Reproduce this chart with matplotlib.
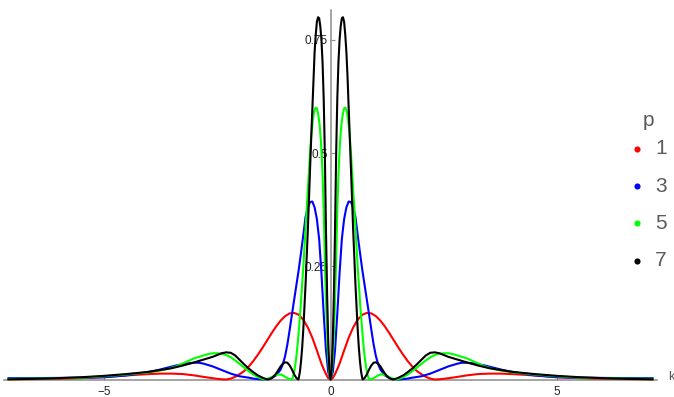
import numpy as np
import matplotlib.pyplot as plt
from matplotlib.lines import Line2D

# values, k >= 0 only (curves are symmetric in k)
k_p1 = [0, 0.05, 0.1, 0.15, 0.2, 0.3, 0.4, 0.5, 0.6, 0.7, 0.8, 0.9, 1.0, 1.1, 1.2, 1.3, 1.4,
        1.5, 1.6, 1.7, 1.8, 1.9, 2.0, 2.1, 2.2, 2.3, 2.4, 2.5, 2.75, 3.0, 3.25, 3.5, 3.75,
        4.0, 4.5, 5.0, 5.5, 6.0, 6.5, 7.1]
y_p1 = [0, 0.003, 0.012, 0.023, 0.035, 0.064, 0.092, 0.115, 0.132, 0.143, 0.147, 0.146, 0.14,
        0.13, 0.117, 0.102, 0.086, 0.07, 0.055, 0.041, 0.029, 0.019, 0.012, 0.006, 0.002, 0.0,
        0.0005, 0.0015, 0.005, 0.009, 0.012, 0.013, 0.013, 0.012, 0.009, 0.005, 0.003, 0.0015,
        0.001, 0.0005]

k_p3 = [0, 0.05, 0.1, 0.15, 0.2, 0.25, 0.3, 0.35, 0.4, 0.45, 0.5, 0.55, 0.6, 0.65, 0.7, 0.75,
        0.8, 0.85, 0.9, 0.95, 1.0, 1.05, 1.1, 1.2, 1.3, 1.4, 1.5, 1.6, 1.7, 1.8, 2.0, 2.2, 2.4,
        2.6, 2.8, 2.9, 3.0, 3.2, 3.4, 3.6, 3.8, 4.0, 4.25, 4.5, 4.75, 5.0, 5.5, 6.0, 6.5, 7.1]
y_p3 = [0, 0.016, 0.065, 0.145, 0.235, 0.31, 0.354, 0.38, 0.393, 0.392, 0.38, 0.359, 0.319,
        0.28, 0.243, 0.21, 0.177, 0.144, 0.11, 0.078, 0.052, 0.034, 0.022, 0.009, 0.003, 0.0005,
        0.0, 0.0008, 0.002, 0.004, 0.007, 0.013, 0.021, 0.029, 0.035, 0.037, 0.037, 0.035,
        0.031, 0.026, 0.021, 0.017, 0.013, 0.009, 0.007, 0.005, 0.004, 0.0035, 0.0032, 0.003]

k_p5 = [0, 0.03, 0.06, 0.09, 0.12, 0.15, 0.18, 0.21, 0.24, 0.27, 0.3, 0.33, 0.36, 0.39, 0.42,
        0.45, 0.48, 0.51, 0.54, 0.57, 0.6, 0.63, 0.66, 0.69, 0.72, 0.75, 0.78, 0.81, 0.84, 0.86,
        0.9, 0.95, 1.0, 1.05, 1.1, 1.15, 1.2, 1.25, 1.3, 1.35, 1.4, 1.45, 1.5, 1.6, 1.7, 1.8,
        1.9, 2.0, 2.1, 2.2, 2.3, 2.4, 2.5, 2.6, 2.7, 2.8, 3.0, 3.2, 3.4, 3.6, 3.8, 4.0, 4.5,
        5.0, 5.5, 6.0, 6.5, 7.1]
y_p5 = [0, 0.016, 0.064, 0.143, 0.248, 0.375, 0.465, 0.525, 0.563, 0.585, 0.599, 0.6, 0.593,
        0.572, 0.543, 0.503, 0.45, 0.401, 0.353, 0.3, 0.248, 0.203, 0.158, 0.119, 0.083, 0.053,
        0.03, 0.013, 0.002, 0.0, 0.001, 0.003, 0.006, 0.009, 0.011, 0.011, 0.01, 0.008, 0.005,
        0.003, 0.001, 0.0, 0.001, 0.005, 0.011, 0.018, 0.026, 0.034, 0.042, 0.049, 0.054,
        0.057, 0.058, 0.058, 0.056, 0.053, 0.047, 0.038, 0.029, 0.023, 0.019, 0.016, 0.011,
        0.007, 0.004, 0.003, 0.002, 0.0015]

k_p7 = [0, 0.025, 0.05, 0.075, 0.1, 0.125, 0.15, 0.175, 0.2, 0.225, 0.25, 0.275, 0.3, 0.325,
        0.35, 0.375, 0.4, 0.425, 0.45, 0.475, 0.5, 0.525, 0.55, 0.575, 0.6, 0.625, 0.65, 0.675,
        0.7, 0.71, 0.75, 0.8, 0.85, 0.9, 0.95, 1.0, 1.05, 1.1, 1.15, 1.2, 1.25, 1.3, 1.37,
        1.45, 1.5, 1.6, 1.7, 1.8, 1.9, 2.0, 2.1, 2.2, 2.3, 2.4, 2.5, 2.6, 2.8, 3.0, 3.25, 3.5,
        3.75, 4.0, 4.5, 5.0, 5.5, 6.0, 6.5, 7.1]
y_p7 = [0, 0.021, 0.085, 0.19, 0.33, 0.5, 0.62, 0.7, 0.75, 0.78, 0.798, 0.8, 0.79, 0.762,
        0.724, 0.67, 0.6, 0.535, 0.47, 0.4, 0.33, 0.27, 0.21, 0.158, 0.11, 0.07, 0.04, 0.017,
        0.003, 0.0, 0.003, 0.011, 0.022, 0.031, 0.037, 0.038, 0.035, 0.029, 0.021, 0.013,
        0.007, 0.003, 0.0, 0.002, 0.004, 0.009, 0.016, 0.024, 0.033, 0.043, 0.053, 0.059,
        0.06, 0.058, 0.054, 0.05, 0.044, 0.038, 0.031, 0.025, 0.021, 0.017, 0.012, 0.008,
        0.005, 0.003, 0.0015, 0.0005]

p_labels = ["1", "3", "5", "7"]
colors = ["#ff0000", "#0000ff", "#00ff00", "#000000"]
series = [(k_p1, y_p1), (k_p3, y_p3), (k_p5, y_p5), (k_p7, y_p7)]


def mirror(k, y):
    k = np.asarray(k, dtype=float)
    y = np.asarray(y, dtype=float)
    return np.concatenate([-k[::-1], k[1:]]), np.concatenate([y[::-1], y[1:]])


W, H = 674, 397
fig = plt.figure(figsize=(W / 100, H / 100), dpi=100)
ax = fig.add_axes([4 / W, 17.5 / H, 653 / W, 369.5 / H])

for (k, y), c in zip(series, colors):
    kk, yy = mirror(k, y)
    ax.plot(kk, yy, color=c, lw=1.5, zorder=3, clip_on=False)

ax.set_xlim(-7.2, 7.2)
ax.set_ylim(0, 0.816)

# mathematica style axes through the origin
axis_col = "#8c8c8c"
for s in ["top", "right"]:
    ax.spines[s].set_visible(False)
ax.spines["left"].set_position(("data", 0))
ax.spines["bottom"].set_position(("data", 0))
for s in ["left", "bottom"]:
    ax.spines[s].set_color(axis_col)
    ax.spines[s].set_linewidth(1.1)

ax.set_xticks([-5, 0, 5])
ax.set_xticklabels(["\u22125", "0", "5"])
ax.set_yticks([0.25, 0.5, 0.75])
ax.set_yticklabels(["0.25", "0.5", "0.75"])
ax.tick_params(direction="in", length=3, width=0.8, color=axis_col,
               labelsize=8.5, labelcolor="#222222")
ax.tick_params(axis="x", pad=5)
ax.tick_params(axis="y", pad=2)
for lab in ax.get_xticklabels() + ax.get_yticklabels():
    lab.set_family("Liberation Sans")

fig.text(668.5 / W, 1 - 377 / H, "k", fontsize=9, color="#555555",
         family="Liberation Sans", ha="left", va="center")

# legend, drawn by hand
txt_col = "#5a5a5a"
fig.text(648 / W, 1 - 121 / H, "p", fontsize=15, color=txt_col,
         family="Liberation Sans", ha="center", va="center")
leg_y = [148.7, 186, 223.3, 260.7]
for lab, c, py in zip(p_labels, colors, leg_y):
    fig.add_artist(Line2D([637.3 / W], [1 - py / H], marker="o", markersize=3.4,
                          color=c, linestyle="", transform=fig.transFigure))
    fig.text(655 / W, 1 - py / H, lab, fontsize=15, color=txt_col,
             family="Liberation Sans", ha="left", va="center")

fig.savefig("out.png", dpi=100)
